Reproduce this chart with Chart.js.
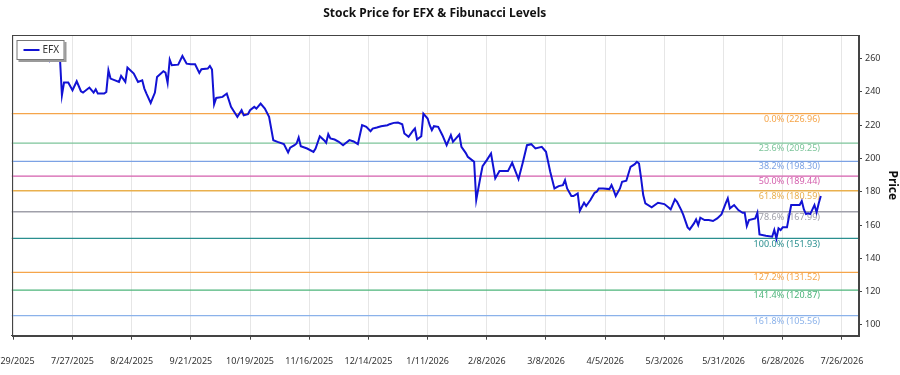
<!DOCTYPE html>
<html>
<head>
<meta charset="utf-8">
<title>Stock Price for EFX &amp; Fibunacci Levels</title>
<script src="https://cdn.jsdelivr.net/npm/chart.js@4.4.1/dist/chart.umd.min.js"></script>
<style>
  html, body { margin: 0; padding: 0; background: #fff; }
  #wrap { width: 900px; height: 375px; }
</style>
</head>
<body>
<div id="wrap"><canvas id="chart" width="900" height="375"></canvas></div>
<script>
// ---- data ----
const dates = [
  '2025-07-02','2025-07-03','2025-07-07','2025-07-08','2025-07-09','2025-07-10','2025-07-13','2025-07-14',
  '2025-07-15','2025-07-16','2025-07-17','2025-07-20','2025-07-21','2025-07-22','2025-07-23','2025-07-25','2025-07-27','2025-07-29',
  '2025-07-31','2025-08-01','2025-08-04','2025-08-06','2025-08-07','2025-08-08','2025-08-11','2025-08-12','2025-08-13','2025-08-14',
  '2025-08-18','2025-08-19','2025-08-21','2025-08-22','2025-08-25','2025-08-27','2025-08-29','2025-08-30','2025-08-31','2025-09-02',
  '2025-09-04','2025-09-05','2025-09-08','2025-09-09','2025-09-10','2025-09-11','2025-09-12','2025-09-15','2025-09-17','2025-09-19',
  '2025-09-21','2025-09-23','2025-09-25','2025-09-26','2025-09-29','2025-09-30','2025-10-01','2025-10-02','2025-10-03','2025-10-06',
  '2025-10-08','2025-10-10','2025-10-12','2025-10-13','2025-10-15','2025-10-16','2025-10-18','2025-10-19','2025-10-21','2025-10-22',
  '2025-10-24','2025-10-26','2025-10-28','2025-10-30','2025-11-01','2025-11-04','2025-11-06','2025-11-07','2025-11-09','2025-11-10',
  '2025-11-11','2025-11-12','2025-11-15','2025-11-18','2025-11-19','2025-11-21','2025-11-23','2025-11-24','2025-11-25','2025-11-26',
  '2025-11-28','2025-11-30','2025-12-02','2025-12-03','2025-12-05','2025-12-07','2025-12-09','2025-12-11','2025-12-13','2025-12-15',
  '2025-12-16','2025-12-18','2025-12-20','2025-12-23','2025-12-24','2025-12-26','2025-12-28','2025-12-30','2025-12-31','2026-01-02',
  '2026-01-04','2026-01-05','2026-01-06','2026-01-08','2026-01-09','2026-01-11','2026-01-12','2026-01-13','2026-01-14','2026-01-16',
  '2026-01-18','2026-01-20','2026-01-22','2026-01-23','2026-01-26','2026-01-27','2026-01-29','2026-01-30','2026-02-01','2026-02-02',
  '2026-02-03','2026-02-05','2026-02-06','2026-02-08','2026-02-10','2026-02-12','2026-02-14','2026-02-18','2026-02-20','2026-02-23',
  '2026-02-25','2026-02-27','2026-03-01','2026-03-03','2026-03-06','2026-03-08','2026-03-10','2026-03-12','2026-03-14','2026-03-16',
  '2026-03-17','2026-03-18','2026-03-20','2026-03-21','2026-03-23','2026-03-24','2026-03-26','2026-03-27','2026-03-29','2026-03-31',
  '2026-04-01','2026-04-02','2026-04-04','2026-04-07','2026-04-08','2026-04-09','2026-04-10','2026-04-12','2026-04-13','2026-04-15',
  '2026-04-17','2026-04-19','2026-04-20','2026-04-21','2026-04-22','2026-04-23','2026-04-24','2026-04-27','2026-04-30','2026-05-03',
  '2026-05-05','2026-05-06','2026-05-08','2026-05-09','2026-05-11','2026-05-12','2026-05-14','2026-05-15','2026-05-17','2026-05-18',
  '2026-05-19','2026-05-20','2026-05-22','2026-05-24','2026-05-26','2026-05-28','2026-05-30','2026-06-01','2026-06-02','2026-06-03',
  '2026-06-05','2026-06-07','2026-06-09','2026-06-10','2026-06-11','2026-06-12','2026-06-15','2026-06-16','2026-06-17','2026-06-20',
  '2026-06-23','2026-06-24','2026-06-25','2026-06-26','2026-06-27','2026-06-28','2026-06-30','2026-07-02','2026-07-05','2026-07-06',
  '2026-07-07','2026-07-08','2026-07-09','2026-07-10','2026-07-11','2026-07-13','2026-07-14','2026-07-15','2026-07-16'
];
const prices = [
  263, 266, 264, 268, 265, 263, 261, 263,
  259, 258.5, 262, 266, 262, 238, 245.6, 245.6, 241, 246.4,
  240.4, 239.6, 242.6, 239.6, 241.6, 239, 239, 240, 253, 248,
  246, 249.6, 246, 254.6, 251, 246, 247, 242, 239, 233.4,
  239.6, 249, 252.4, 251.6, 245.4, 259.4, 256, 256.4, 261.6, 257,
  256.6, 256.6, 251.4, 253.6, 254, 255.6, 253.4, 232.6, 236.4, 237,
  239, 231, 227, 225, 229, 226, 226.6, 229, 231, 230,
  233, 230, 225, 211, 210, 208.6, 203.6, 206.5, 208, 209,
  212.6, 207.4, 206, 204, 206, 213.4, 211, 209.4, 214.6, 212,
  211.4, 210, 208, 209, 211, 210.2, 208.6, 220, 219, 216.4,
  218, 218.6, 219.4, 220, 220.6, 221.4, 221.6, 220.6, 215, 213,
  216.6, 218, 211.4, 213.4, 226.96, 224, 220, 217, 219.4, 219,
  214, 208, 214, 210, 214.4, 207, 203.4, 201, 199, 198,
  175, 189, 195.4, 199, 203, 188, 192.4, 192.4, 197.4, 187.6,
  197.4, 208, 208.6, 206, 207, 204, 192, 182, 183.4, 184,
  187, 182, 177.4, 177.4, 179, 168.6, 173.4, 171.4, 175, 179.4,
  180, 182, 182, 181.6, 184, 181, 177.4, 182, 186, 186.6,
  195, 196.6, 198, 197, 188, 178, 173, 170.6, 173.4, 172.6,
  170.6, 169.4, 175.4, 174, 169, 166, 158.6, 157.4, 161, 163.4,
  160, 164.4, 163, 163, 162.4, 164, 166.4, 173, 176, 170,
  172, 169, 167.4, 167.4, 159.4, 163, 164, 167.4, 154.4, 153.6,
  153, 157, 151.93, 158, 157, 158.6, 158.6, 172, 172, 172,
  174.4, 169.4, 166.6, 167, 166.6, 172, 167.6, 173, 177.4
];

const fibLabels = ['0.0%', '23.6%', '38.2%', '50.0%', '61.8%', '78.6%', '100.0%', '127.2%', '141.4%', '161.8%'];
const fibValues = [226.96, 209.25, 198.30, 189.44, 180.59, 167.99, 151.93, 131.52, 120.87, 105.56];

const xTickDates = ['2025-06-29','2025-07-27','2025-08-24','2025-09-21','2025-10-19','2025-11-16','2025-12-14',
  '2026-01-11','2026-02-08','2026-03-08','2026-04-05','2026-05-03','2026-05-31','2026-06-28','2026-07-26'];

// ---- styles ----
const fibColors = ['#f5a54a', '#7cc49a', '#7ca2e4', '#d45fad', '#e9b04e', '#a0a0aa', '#2a8f8f', '#f5a54a', '#4cb47a', '#8bb2ea'];
const lineColor = '#1212d4';
const axisColor = '#444';

const DAY = 86400000;
const t0 = Date.UTC(2025, 5, 29);
function toDay(s) {
  const [y, m, d] = s.split('-').map(Number);
  return (Date.UTC(y, m - 1, d) - t0) / DAY;
}
function fmtDay(v) {
  const dt = new Date(t0 + Math.round(v) * DAY);
  return (dt.getUTCMonth() + 1) + '/' + dt.getUTCDate() + '/' + dt.getUTCFullYear();
}

const X_MIN = -0.85, X_MAX = 399.6;
const Y_MIN = 93.5, Y_MAX = 274.2;

Chart.defaults.font.family = "'Noto Sans', 'Open Sans', sans-serif";
Chart.defaults.font.size = 9;
Chart.defaults.color = '#333';

// frame, fib labels, title, legend, minor ticks
const decor = {
  id: 'decor',
  beforeDatasetDraw(chart, args) {
    if (args.index !== 0) return;
    const { ctx, chartArea, scales } = chart;
    ctx.save();
    ctx.font = "9px 'Noto Sans', sans-serif";
    ctx.textAlign = 'right';
    ctx.textBaseline = 'top';
    fibValues.forEach((v, i) => {
      ctx.fillStyle = fibColors[i];
      ctx.fillText(fibLabels[i] + ' (' + v.toFixed(2) + ')', chartArea.right - 38, scales.y.getPixelForValue(v) + 1);
    });
    ctx.restore();
  },
  afterDraw(chart) {
    const { ctx, chartArea: a, scales } = chart;
    ctx.save();
    // frame
    ctx.strokeStyle = axisColor;
    ctx.lineWidth = 1;
    ctx.strokeRect(Math.round(a.left) + 0.5, Math.round(a.top) + 0.5, Math.round(a.right - a.left), Math.round(a.bottom - a.top));
    // minor ticks on price axis
    ctx.beginPath();
    for (let v = 96; v < Y_MAX; v += 4) {
      if (v % 20 === 0) continue;
      const py = Math.round(scales.y.getPixelForValue(v)) + 0.5;
      ctx.moveTo(a.right, py);
      ctx.lineTo(a.right + 2, py);
    }
    ctx.stroke();
    // title
    ctx.fillStyle = '#111';
    ctx.font = "bold 12px 'Noto Sans', sans-serif";
    ctx.textAlign = 'center';
    ctx.textBaseline = 'middle';
    ctx.fillText('Stock Price for EFX & Fibunacci Levels', (a.left + a.right) / 2, 14);
    // legend box
    const lx = a.left + 5, ly = a.top + 5, lw = 48, lh = 20;
    ctx.fillStyle = '#9a9a9a';
    ctx.fillRect(lx + 2, ly + 2, lw, lh);
    ctx.fillStyle = '#fff';
    ctx.fillRect(lx, ly, lw, lh);
    ctx.strokeStyle = '#777';
    ctx.strokeRect(lx + 0.5, ly + 0.5, lw - 1, lh - 1);
    ctx.strokeStyle = lineColor;
    ctx.lineWidth = 2;
    ctx.beginPath();
    ctx.moveTo(lx + 7, ly + 10);
    ctx.lineTo(lx + 23, ly + 10);
    ctx.stroke();
    ctx.fillStyle = '#333';
    ctx.font = "10px 'Noto Sans', sans-serif";
    ctx.textAlign = 'left';
    ctx.fillText('EFX', lx + 26, ly + 10);
    ctx.restore();
  }
};

const priceData = dates.map((d, i) => ({ x: toDay(d), y: prices[i] }));

const fibSets = fibValues.map((v, i) => ({
  label: fibLabels[i],
  data: [{ x: X_MIN, y: v }, { x: X_MAX, y: v }],
  borderColor: fibColors[i],
  borderWidth: 1.3,
  pointRadius: 0,
  order: 1
}));

new Chart(document.getElementById('chart').getContext('2d'), {
  type: 'line',
  data: {
    datasets: [
      { label: 'EFX', data: priceData, borderColor: lineColor, borderWidth: 2, pointRadius: 0, tension: 0, order: 0 },
      ...fibSets
    ]
  },
  options: {
    responsive: false,
    animation: false,
    layout: { padding: { top: 35, left: 11.5, right: 0, bottom: 0 } },
    plugins: { legend: { display: false }, title: { display: false }, tooltip: { enabled: false } },
    scales: {
      x: {
        type: 'linear',
        min: X_MIN, max: X_MAX,
        afterBuildTicks: s => { s.ticks = xTickDates.map(d => ({ value: toDay(d) })); },
        afterFit: s => { s.height = 39.3; s.paddingLeft = 0; s.paddingRight = 0; },
        ticks: { callback: v => fmtDay(v), autoSkip: false, maxRotation: 0, padding: 16, color: '#333' },
        grid: { color: '#e6e6e6', tickColor: axisColor, tickLength: 4 },
        border: { color: axisColor }
      },
      y: {
        position: 'right',
        min: Y_MIN, max: Y_MAX,
        afterFit: s => { s.width = 42; },
        ticks: { stepSize: 20, includeBounds: false, padding: 3, color: '#333' },
        grid: { drawOnChartArea: false, tickColor: axisColor, tickLength: 4 },
        border: { color: axisColor },
        title: { display: true, text: 'Price', color: '#111', font: { size: 12, weight: 'bold' }, padding: { top: 0, bottom: 2 } }
      }
    }
  },
  plugins: [decor]
});
</script>
</body>
</html>
